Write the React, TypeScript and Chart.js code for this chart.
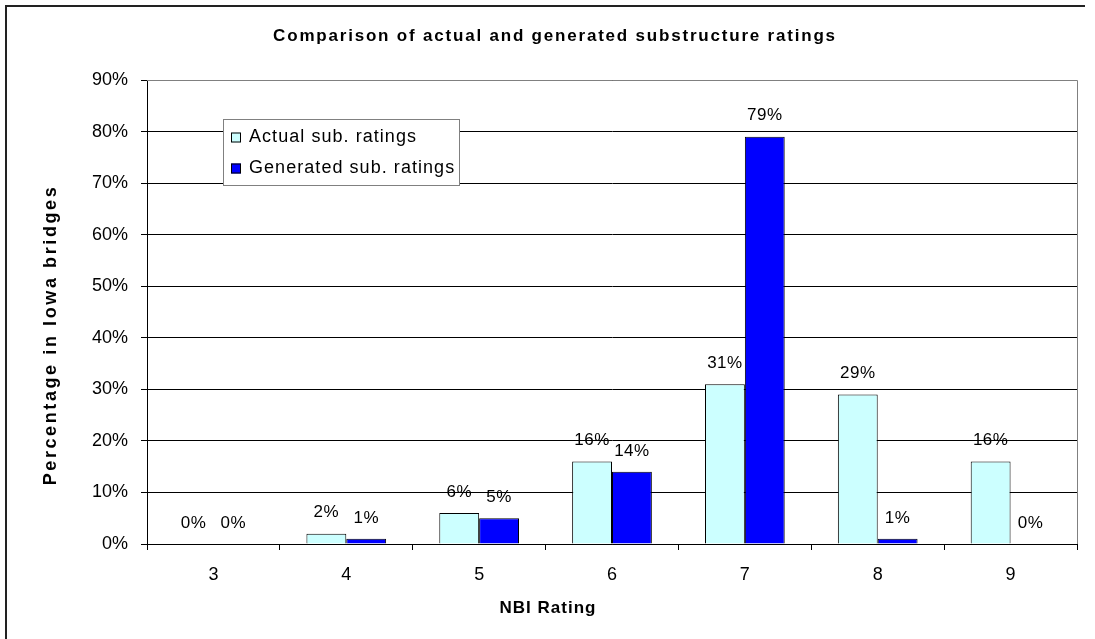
import React, { useEffect, useRef } from "react";
import { Chart, registerables } from "chart.js";

Chart.register(...registerables);

const categories = ["3", "4", "5", "6", "7", "8", "9"];
const actualRatings = [0, 2, 6, 16, 31, 29, 16];
const generatedRatings = [0, 1, 5, 14, 79, 1, 0];
const seriesNames = ["Actual sub. ratings", "Generated sub. ratings"];
const seriesColors = ["#CCFFFF", "#0000FF"];
const yTickMax = 90;
const yTickStep = 10;
const chartTitle = "Comparison of actual and generated substructure ratings";
const xTitle = "NBI Rating";
const yTitle = "Percentage in Iowa bridges";

const FONT = "'Liberation Sans', Arial, sans-serif";

function drawSpaced(ctx: CanvasRenderingContext2D, text: string, x: number, y: number, spacing: number) {
  (ctx as any).letterSpacing = spacing + "px";
  ctx.fillText(text, x, y);
  (ctx as any).letterSpacing = "0px";
}

const decorPlugin = {
  id: "decor",
  beforeDraw(chart: any) {
    const ctx = chart.ctx as CanvasRenderingContext2D;
    ctx.save();
    ctx.fillStyle = "#fff";
    ctx.fillRect(0, 0, chart.width, chart.height);
    // outer frame
    ctx.strokeStyle = "#222";
    ctx.lineWidth = 2;
    ctx.beginPath();
    ctx.moveTo(6, chart.height);
    ctx.lineTo(6, 6);
    ctx.lineTo(1085, 6);
    ctx.stroke();
    ctx.restore();
  },
  afterDraw(chart: any) {
    const ctx = chart.ctx as CanvasRenderingContext2D;
    const a = chart.chartArea;
    ctx.save();
    // plot area grey border (top & right)
    ctx.strokeStyle = "#808080";
    ctx.lineWidth = 1;
    ctx.beginPath();
    ctx.moveTo(a.left, a.top + 0.5);
    ctx.lineTo(a.right + 0.5, a.top + 0.5);
    ctx.lineTo(a.right + 0.5, a.bottom);
    ctx.stroke();

    // titles
    ctx.fillStyle = "#000";
    ctx.textAlign = "center";
    ctx.textBaseline = "middle";
    ctx.font = `bold 17px ${FONT}`;
    drawSpaced(ctx, chartTitle, 555, 36, 1.8);
    drawSpaced(ctx, xTitle, 548, 608, 1);
    ctx.save();
    ctx.translate(51, 335);
    ctx.rotate(-Math.PI / 2);
    ctx.font = `bold 18px ${FONT}`;
    drawSpaced(ctx, yTitle, 0, 0, 2.6);
    ctx.restore();

    // data labels
    ctx.font = `17px ${FONT}`;
    ctx.textAlign = "center";
    ctx.textBaseline = "middle";
    chart.data.datasets.forEach((ds: any, i: number) => {
      const meta = chart.getDatasetMeta(i);
      meta.data.forEach((el: any, j: number) => {
        drawSpaced(ctx, ds.data[j] + "%", el.x, el.y - 21, 0.5);
      });
    });

    // legend
    const lx = 223, ly = 119, lw = 236, lh = 66;
    ctx.fillStyle = "#fff";
    ctx.fillRect(lx, ly, lw, lh);
    ctx.strokeStyle = "#808080";
    ctx.lineWidth = 1;
    ctx.strokeRect(lx + 0.5, ly + 0.5, lw, lh);
    ctx.font = `18px ${FONT}`;
    ctx.textAlign = "left";
    ctx.textBaseline = "middle";
    seriesNames.forEach((name, i) => {
      const cy = 137 + i * 31;
      ctx.fillStyle = seriesColors[i];
      ctx.fillRect(231, cy - 4.5, 10, 10);
      ctx.strokeStyle = "#000";
      ctx.strokeRect(231.5, cy - 4, 9, 9);
      ctx.fillStyle = "#000";
      drawSpaced(ctx, name, 249, cy, 1.05);
    });
    ctx.restore();
  },
};

export default function App() {
  const ref = useRef<HTMLCanvasElement>(null);
  useEffect(() => {
    if (!ref.current) return;
    const chart = new Chart(ref.current, {
      type: "bar",
      data: {
        labels: categories,
        datasets: [
          {
            label: seriesNames[0],
            data: actualRatings,
            backgroundColor: seriesColors[0],
            borderColor: "#000",
            borderWidth: 1,
            categoryPercentage: 0.6,
            barPercentage: 1,
          },
          {
            label: seriesNames[1],
            data: generatedRatings,
            backgroundColor: seriesColors[1],
            borderColor: "#000",
            borderWidth: 1,
            categoryPercentage: 0.6,
            barPercentage: 1,
          },
        ],
      },
      options: {
        responsive: false,
        animation: false,
        devicePixelRatio: 1,
        layout: { padding: { top: 80, right: 18, left: 0, bottom: 0 } },
        plugins: {
          legend: { display: false },
          title: { display: false },
          tooltip: { enabled: false },
        },
        scales: {
          x: {
            grid: {
              offset: true,
              drawOnChartArea: false,
              drawTicks: true,
              tickLength: 6,
              color: "#000",
            },
            border: { color: "#000" },
            ticks: {
              color: "#000",
              font: { family: FONT, size: 18 },
              padding: 14,
              maxRotation: 0,
            },
            afterFit: (s: any) => {
              s.height = 95;
            },
          },
          y: {
            min: 0,
            max: yTickMax,
            ticks: {
              stepSize: yTickStep,
              color: "#000",
              font: { family: FONT, size: 18 },
              padding: 13,
              callback: (v: any) => v + "%",
            },
            grid: {
              color: "#000",
              tickLength: 6,
            },
            border: { color: "#000" },
            afterFit: (s: any) => {
              s.width = 147;
            },
          },
        },
      },
      plugins: [decorPlugin],
    });
    return () => chart.destroy();
  }, []);
  return (
    <div style={{ position: "absolute", left: 0, top: 0, width: 1095, height: 639 }}>
      <canvas ref={ref} width={1095} height={639} />
    </div>
  );
}
